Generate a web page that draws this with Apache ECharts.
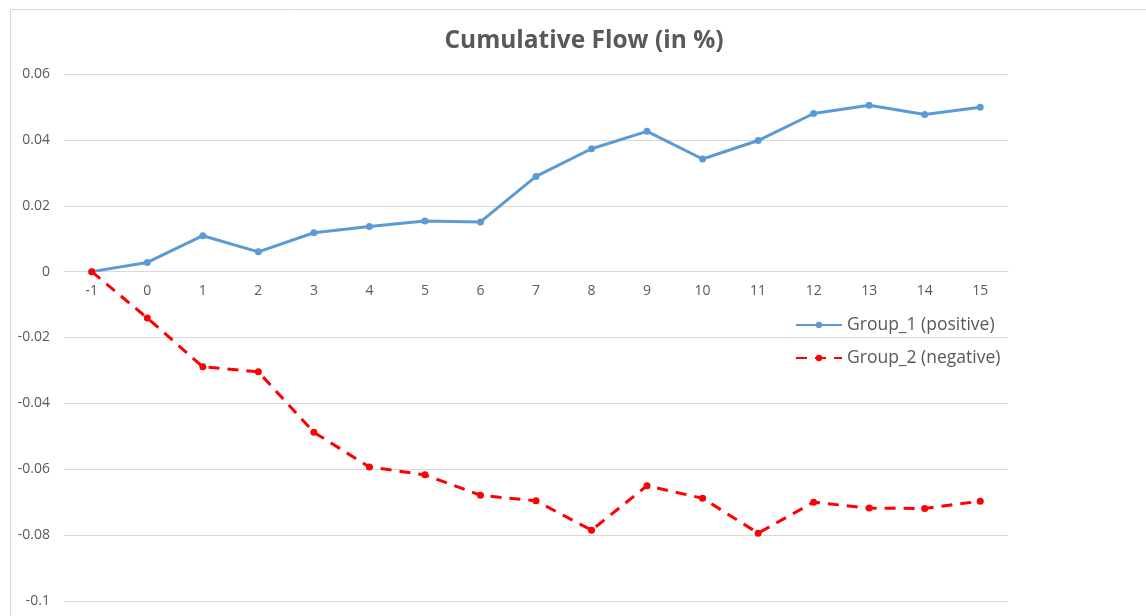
<!DOCTYPE html>
<html>
<head>
<meta charset="utf-8">
<script src="https://cdn.jsdelivr.net/npm/echarts@6/dist/echarts.min.js"></script>
<style>html,body{margin:0;padding:0;background:#fff}#c{width:1146px;height:616px}</style>
</head>
<body>
<div id="c"></div>
<script>
var categories = ['-1','0','1','2','3','4','5','6','7','8','9','10','11','12','13','14','15'];
var group1 = [0, 0.0028, 0.0109, 0.0060, 0.0118, 0.0137, 0.0154, 0.0151, 0.0289, 0.0373, 0.0426, 0.0342, 0.0398, 0.0480, 0.0505, 0.0477, 0.0499];
var group2 = [0, -0.0141, -0.0289, -0.0304, -0.0488, -0.0593, -0.0617, -0.0679, -0.0696, -0.0785, -0.0650, -0.0688, -0.0794, -0.0700, -0.0718, -0.0719, -0.0697];
var seriesNames = ['Group_1 (positive)', 'Group_2 (negative)'];
var titleText = 'Cumulative Flow (in %)';
var yMin = -0.1, yMax = 0.06, yStep = 0.02;

var chart = echarts.init(document.getElementById('c'), null, {renderer: 'canvas'});
var font = 'Open Sans, Noto Sans, sans-serif';
chart.setOption({
  animation: false,
  backgroundColor: '#fff',
  graphic: [{
    type: 'rect', left: 8, top: 7, shape: {width: 1160, height: 640},
    style: {fill: 'none', stroke: '#d9d9d9', lineWidth: 1}, silent: true
  }],
  title: {
    text: titleText, left: 579, top: 24, textAlign: 'center',
    textStyle: {fontFamily: font, fontSize: 24.5, fontWeight: 'bold', color: '#595959'}
  },
  legend: {
    orient: 'vertical', left: 795, top: 316, itemGap: 15, padding: 0,
    itemWidth: 46, itemHeight: 8,
    textStyle: {fontFamily: font, fontSize: 17.5, color: '#595959'},
    data: seriesNames
  },
  grid: {left: 64, right: 138, top: 74, bottom: 15, containLabel: false, outerBoundsMode: 'none'},
  xAxis: {
    type: 'category', data: categories, boundaryGap: true,
    axisLine: {show: true, onZero: false, lineStyle: {color: '#d9d9d9'}},
    axisTick: {show: false},
    axisLabel: {fontFamily: font, fontSize: 14, color: '#595959', margin: 12},
    splitLine: {show: false}
  },
  yAxis: {
    type: 'value', min: yMin, max: yMax, interval: yStep,
    axisLine: {show: false}, axisTick: {show: false},
    axisLabel: {fontFamily: font, fontSize: 14, color: '#595959', margin: 14,
      formatter: function (v) { return String(Math.round(v * 100) / 100); }},
    splitLine: {lineStyle: {color: '#d9d9d9', width: 1}}
  },
  series: [{
    name: seriesNames[0], type: 'line', data: group1,
    symbol: 'circle', symbolSize: 7,
    lineStyle: {color: '#5b9bd5', width: 3},
    itemStyle: {color: '#5b9bd5'}
  }, {
    name: seriesNames[1], type: 'line', data: group2,
    symbol: 'circle', symbolSize: 7,
    lineStyle: {color: '#ff0000', width: 3, type: [11, 8]},
    itemStyle: {color: '#ff0000'}
  }]
});
// place the category axis on the zero line, using the library's own y scale
for (var i = 0; i < 2; i++) {
  var zeroY = chart.convertToPixel({yAxisIndex: 0}, 0);
  var bottomY = chart.convertToPixel({yAxisIndex: 0}, yMin);
  chart.setOption({xAxis: {offset: zeroY - bottomY}});
}
</script>
</body>
</html>
